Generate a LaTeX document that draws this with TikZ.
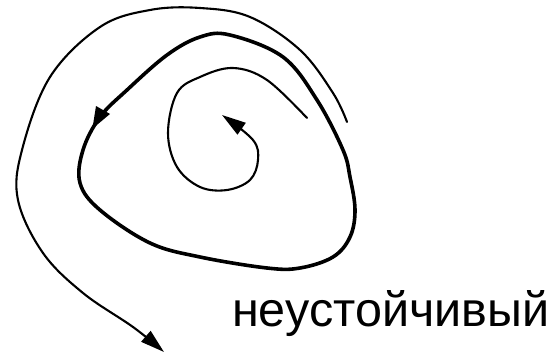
\documentclass[tikz,border=0pt]{standalone}
\usepackage{fontspec}
\setmainfont{Liberation Sans}
\usetikzlibrary{arrows.meta,decorations.markings}
\tikzset{
  orbit/.style={line width=2.1pt, line cap=round, line join=round},
  limitcycle/.style={line width=3.6pt, line join=round},
  headtip/.style={-{Triangle[length=24pt,width=14pt]}},
  midtip/.style={postaction={decorate}, decoration={markings,
      mark=at position #1 with {\arrow{Triangle[length=22pt,width=15pt]}}}},
  caption/.style={font=\fontsize{48.5}{56}\selectfont, anchor=base west, inner sep=0pt},
}
\begin{document}
\begin{tikzpicture}[x=1pt,y=-1pt]
  \useasboundingbox (0,0) rectangle (552,355);
  \draw[limitcycle, midtip=0.18] plot[smooth cycle, tension=0.6] coordinates {
    (230,35) (200,37) (167,55) (127,90) (100,117) (83,150) (80,183) (100,210)
    (150,243) (200,257) (267,268) (300,268) (333,257) (350,237) (355,210)
    (350,177) (343,150) (317,100) (283,57)};
  \draw[orbit, headtip] plot[smooth, tension=0.6] coordinates {
    (347,122) (333,93) (300,50) (250,17) (200,8) (150,10) (100,27) (50,77)
    (22,150) (18,200) (43,253) (83,293) (133,327) (164,352)};
  \draw[orbit, headtip] plot[smooth, tension=0.6] coordinates {
    (307,118) (267,80) (233,68) (200,77) (177,93) (168,133) (177,167)
    (200,187) (227,190) (250,180) (258,160) (253,140) (222,115)};
  \node[caption] (label) at (232,327) {неустойчивый};
\end{tikzpicture}
\end{document}
